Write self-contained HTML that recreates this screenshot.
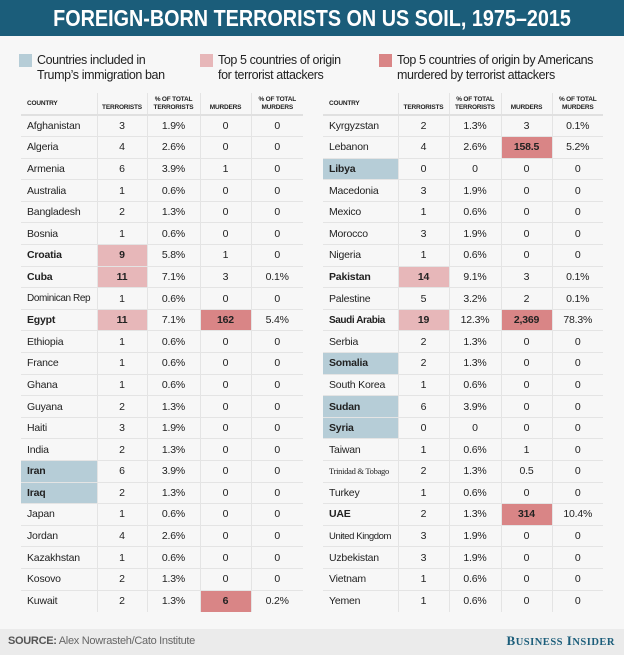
<!DOCTYPE html>
<html><head><meta charset="utf-8"><style>
*{margin:0;padding:0;box-sizing:border-box}
body{width:624px;height:655px;background:#f7f7f7;position:relative;overflow:hidden;font-family:"Liberation Sans",sans-serif;color:#222}
.title{position:absolute;left:0;top:0;width:624px;height:36px;background:#1b5d7a;color:#fff;font:bold 23px "Liberation Sans",sans-serif;text-align:center;line-height:36px;white-space:nowrap}
.title span{display:inline-block;transform:scaleX(0.86)}
.leg{position:absolute;top:53px;font-size:12.5px;line-height:15px;color:#222;white-space:nowrap;letter-spacing:-0.4px}
.sw{position:absolute;width:13px;height:13px;left:-18px;top:1px}
table{position:absolute;top:93px;border-collapse:collapse;table-layout:fixed;font-size:10.5px;letter-spacing:-0.2px}
td{height:21.6px;text-align:center;border-bottom:1px solid #e4e4e4;border-left:1px solid #e4e4e4;padding:0;white-space:nowrap;overflow:hidden}
td:first-child{text-align:left;padding-left:6px;border-left:none}
th{height:22px;font-size:6.5px;font-weight:bold;text-align:center;border-bottom:2px solid #e0e0e0;border-left:1px solid #e4e4e4;line-height:7.5px;vertical-align:bottom;padding-bottom:3px;white-space:nowrap;letter-spacing:-0.2px}
th:first-child{text-align:left;padding-left:6px;border-left:none;vertical-align:middle;padding-bottom:0}
tr:last-child td{border-bottom:none}
.b{font-weight:bold}
.bl{background:#b6cdd7;font-weight:bold}
.pk{background:#e7b7b9;font-weight:bold}
.rd{background:#d98586;font-weight:bold}
.foot{position:absolute;left:0;top:629px;width:624px;height:26px;background:#ebebeb}
</style></head><body>
<div class="title"><span>FOREIGN-BORN TERRORISTS ON US SOIL, 1975–2015</span></div>
<div class="leg" style="left:37px"><div class="sw" style="background:#b6cdd7"></div>Countries included in<br>Trump’s immigration ban</div>
<div class="leg" style="left:218px"><div class="sw" style="background:#e7b7b9"></div>Top 5 countries of origin<br>for terrorist attackers</div>
<div class="leg" style="left:397px"><div class="sw" style="background:#d98586"></div>Top 5 countries of origin by Americans<br>murdered by terrorist attackers</div>

<table style="left:21px;width:282px">
<colgroup><col style="width:76px"><col style="width:50px"><col style="width:53px"><col style="width:51px"><col style="width:52px"></colgroup>
<tr><th>COUNTRY</th><th>TERRORISTS</th><th>% OF TOTAL<br>TERRORISTS</th><th>MURDERS</th><th>% OF TOTAL<br>MURDERS</th></tr>
<tr><td>Afghanistan</td><td>3</td><td>1.9%</td><td>0</td><td>0</td></tr>
<tr><td>Algeria</td><td>4</td><td>2.6%</td><td>0</td><td>0</td></tr>
<tr><td>Armenia</td><td>6</td><td>3.9%</td><td>1</td><td>0</td></tr>
<tr><td>Australia</td><td>1</td><td>0.6%</td><td>0</td><td>0</td></tr>
<tr><td>Bangladesh</td><td>2</td><td>1.3%</td><td>0</td><td>0</td></tr>
<tr><td>Bosnia</td><td>1</td><td>0.6%</td><td>0</td><td>0</td></tr>
<tr><td class="b">Croatia</td><td class="pk">9</td><td>5.8%</td><td>1</td><td>0</td></tr>
<tr><td class="b">Cuba</td><td class="pk">11</td><td>7.1%</td><td>3</td><td>0.1%</td></tr>
<tr><td style="font-size:10px;letter-spacing:-0.4px">Dominican Rep</td><td>1</td><td>0.6%</td><td>0</td><td>0</td></tr>
<tr><td class="b">Egypt</td><td class="pk">11</td><td>7.1%</td><td class="rd">162</td><td>5.4%</td></tr>
<tr><td>Ethiopia</td><td>1</td><td>0.6%</td><td>0</td><td>0</td></tr>
<tr><td>France</td><td>1</td><td>0.6%</td><td>0</td><td>0</td></tr>
<tr><td>Ghana</td><td>1</td><td>0.6%</td><td>0</td><td>0</td></tr>
<tr><td>Guyana</td><td>2</td><td>1.3%</td><td>0</td><td>0</td></tr>
<tr><td>Haiti</td><td>3</td><td>1.9%</td><td>0</td><td>0</td></tr>
<tr><td>India</td><td>2</td><td>1.3%</td><td>0</td><td>0</td></tr>
<tr><td class="bl">Iran</td><td>6</td><td>3.9%</td><td>0</td><td>0</td></tr>
<tr><td class="bl">Iraq</td><td>2</td><td>1.3%</td><td>0</td><td>0</td></tr>
<tr><td>Japan</td><td>1</td><td>0.6%</td><td>0</td><td>0</td></tr>
<tr><td>Jordan</td><td>4</td><td>2.6%</td><td>0</td><td>0</td></tr>
<tr><td>Kazakhstan</td><td>1</td><td>0.6%</td><td>0</td><td>0</td></tr>
<tr><td>Kosovo</td><td>2</td><td>1.3%</td><td>0</td><td>0</td></tr>
<tr><td>Kuwait</td><td>2</td><td>1.3%</td><td class="rd">6</td><td>0.2%</td></tr>
</table>

<table style="left:323px;width:280px">
<colgroup><col style="width:75px"><col style="width:51px"><col style="width:52px"><col style="width:51px"><col style="width:51px"></colgroup>
<tr><th>COUNTRY</th><th>TERRORISTS</th><th>% OF TOTAL<br>TERRORISTS</th><th>MURDERS</th><th>% OF TOTAL<br>MURDERS</th></tr>
<tr><td>Kyrgyzstan</td><td>2</td><td>1.3%</td><td>3</td><td>0.1%</td></tr>
<tr><td>Lebanon</td><td>4</td><td>2.6%</td><td class="rd">158.5</td><td>5.2%</td></tr>
<tr><td class="bl">Libya</td><td>0</td><td>0</td><td>0</td><td>0</td></tr>
<tr><td>Macedonia</td><td>3</td><td>1.9%</td><td>0</td><td>0</td></tr>
<tr><td>Mexico</td><td>1</td><td>0.6%</td><td>0</td><td>0</td></tr>
<tr><td>Morocco</td><td>3</td><td>1.9%</td><td>0</td><td>0</td></tr>
<tr><td>Nigeria</td><td>1</td><td>0.6%</td><td>0</td><td>0</td></tr>
<tr><td class="b">Pakistan</td><td class="pk">14</td><td>9.1%</td><td>3</td><td>0.1%</td></tr>
<tr><td>Palestine</td><td>5</td><td>3.2%</td><td>2</td><td>0.1%</td></tr>
<tr><td class="b" style="font-size:10px;letter-spacing:-0.4px">Saudi Arabia</td><td class="pk">19</td><td>12.3%</td><td class="rd">2,369</td><td>78.3%</td></tr>
<tr><td>Serbia</td><td>2</td><td>1.3%</td><td>0</td><td>0</td></tr>
<tr><td class="bl">Somalia</td><td>2</td><td>1.3%</td><td>0</td><td>0</td></tr>
<tr><td>South Korea</td><td>1</td><td>0.6%</td><td>0</td><td>0</td></tr>
<tr><td class="bl">Sudan</td><td>6</td><td>3.9%</td><td>0</td><td>0</td></tr>
<tr><td class="bl">Syria</td><td>0</td><td>0</td><td>0</td><td>0</td></tr>
<tr><td>Taiwan</td><td>1</td><td>0.6%</td><td>1</td><td>0</td></tr>
<tr><td style="font-family:'Liberation Serif',serif;font-size:8.5px;letter-spacing:-0.3px">Trinidad &amp; Tobago</td><td>2</td><td>1.3%</td><td>0.5</td><td>0</td></tr>
<tr><td>Turkey</td><td>1</td><td>0.6%</td><td>0</td><td>0</td></tr>
<tr><td class="b">UAE</td><td>2</td><td>1.3%</td><td class="rd">314</td><td>10.4%</td></tr>
<tr><td style="font-size:9.5px;letter-spacing:-0.4px">United Kingdom</td><td>3</td><td>1.9%</td><td>0</td><td>0</td></tr>
<tr><td>Uzbekistan</td><td>3</td><td>1.9%</td><td>0</td><td>0</td></tr>
<tr><td>Vietnam</td><td>1</td><td>0.6%</td><td>0</td><td>0</td></tr>
<tr><td>Yemen</td><td>1</td><td>0.6%</td><td>0</td><td>0</td></tr>
</table>

<div class="foot">
<div style="position:absolute;left:8px;top:6px;font-size:11px;color:#666;letter-spacing:-0.3px"><b style="color:#555">SOURCE:</b> Alex Nowrasteh/Cato Institute</div>
<div style="position:absolute;right:9px;top:4px;font:bold 13px 'Liberation Serif',serif;color:#1b5d7a;letter-spacing:0.5px">B<span style="font-size:10.5px">USINESS</span> I<span style="font-size:10.5px">NSIDER</span></div>
</div>
</body></html>
